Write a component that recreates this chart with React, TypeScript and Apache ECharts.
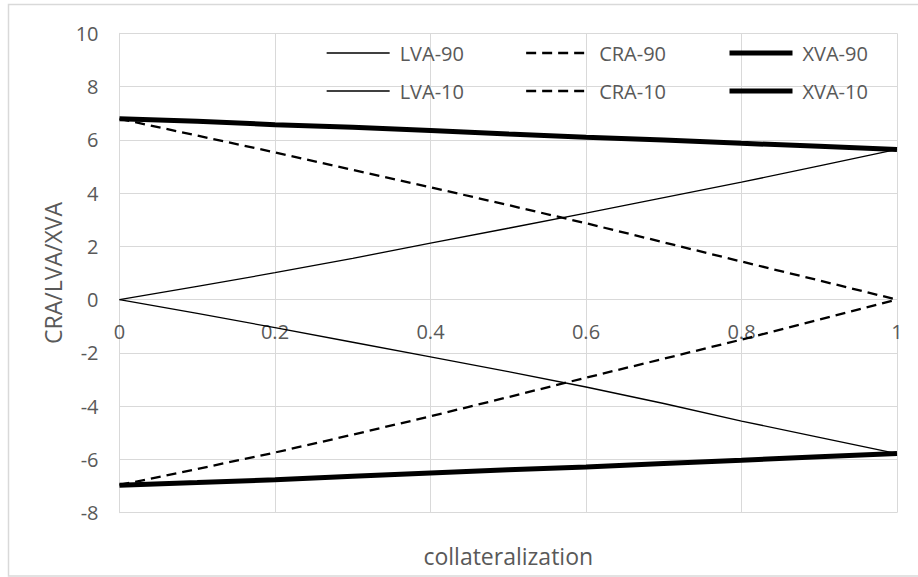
import React, { useEffect, useRef } from "react";
import * as echarts from "echarts";

const xValues = [0, 0.1, 0.2, 0.3, 0.4, 0.5, 0.6, 0.7, 0.8, 0.9, 1];
const lva90 = [0, 0.5, 1.01, 1.55, 2.12, 2.68, 3.25, 3.83, 4.41, 5.02, 5.64];
const cra90 = [6.79, 6.16, 5.53, 4.87, 4.22, 3.55, 2.87, 2.15, 1.43, 0.72, 0];
const xva90 = [6.79, 6.7, 6.57, 6.47, 6.35, 6.22, 6.1, 5.99, 5.87, 5.76, 5.64];
const lva10 = [0, -0.52, -1.05, -1.6, -2.15, -2.7, -3.28, -3.9, -4.56, -5.17, -5.78];
const cra10 = [-6.96, -6.36, -5.74, -5.07, -4.38, -3.66, -2.93, -2.22, -1.5, -0.75, 0];
const xva10 = [-6.97, -6.87, -6.76, -6.63, -6.51, -6.39, -6.28, -6.15, -6.03, -5.9, -5.78];

const FONT = "'Open Sans', sans-serif";
const TXT = "#595959";
const GRID = "#d9d9d9";

function pairs(ys: number[]) {
  return xValues.map((x, i) => [x, ys[i]]);
}

export default function App() {
  const ref = useRef<HTMLDivElement>(null);
  useEffect(() => {
    if (!ref.current) return;
    const chart = echarts.init(ref.current, undefined, { renderer: "svg" });
    const thin = { color: "#000", width: 1.3, type: "solid" as const };
    const dash = { color: "#000", width: 2.3, type: [10, 6] as any };
    const thick = { color: "#000", width: 5, type: "solid" as const };
    const mk = (name: string, ys: number[], ls: any) => ({
      name,
      type: "line",
      data: pairs(ys),
      symbol: "none",
      showSymbol: false,
      lineStyle: ls,
      itemStyle: { color: "#000" },
      color: "#000",
    });
    const legendBase = {
      orient: "vertical",
      top: 43,
      padding: 0,
      itemWidth: 63,
      itemHeight: 20,
      itemGap: 18,
      itemStyle: { color: "rgba(0,0,0,0)", opacity: 0, borderWidth: 0 },
      textStyle: { fontFamily: FONT, fontSize: 20, color: TXT, padding: [0, 0, 0, 5] },
    };
    chart.setOption({
      animation: false,
      backgroundColor: "#fff",
      textStyle: { fontFamily: FONT },
      grid: {
        left: 119.5,
        right: 21,
        top: 33.3,
        bottom: 64.3,
        containLabel: false,
        outerBoundsMode: "none",
      },
      legend: [
        { ...legendBase, left: 326, lineStyle: { width: 1.3 }, data: ["LVA-90", "LVA-10"] },
        { ...legendBase, left: 525, lineStyle: { width: 2.3 }, data: ["CRA-90", "CRA-10"] },
        { ...legendBase, left: 727, lineStyle: { width: 5 }, data: ["XVA-90", "XVA-10"] },
      ],
      xAxis: {
        type: "value",
        min: 0,
        max: 1,
        interval: 0.2,
        position: "bottom",
        offset: -213,
        name: "collateralization",
        nameLocation: "middle",
        nameGap: 245,
        nameTextStyle: { fontFamily: FONT, fontSize: 23, color: TXT },
        axisLine: { show: true, onZero: false, lineStyle: { color: GRID, width: 1 } },
        axisTick: { show: false },
        axisLabel: { fontFamily: FONT, fontSize: 20, color: TXT, margin: 22 },
        splitLine: { show: true, lineStyle: { color: GRID, width: 1 } },
      },
      yAxis: {
        type: "value",
        min: -8,
        max: 10,
        interval: 2,
        axisLine: { show: true, onZero: false, lineStyle: { color: GRID, width: 1 } },
        axisTick: { show: false },
        axisLabel: { fontFamily: FONT, fontSize: 20, color: TXT, margin: 21 },
        splitLine: { show: true, lineStyle: { color: GRID, width: 1 } },
      },
      graphic: [
        {
          type: "rect",
          shape: { x: 8.5, y: 4.5, width: 1000, height: 571.5 },
          style: { fill: "none", stroke: GRID, lineWidth: 1.5 },
          silent: true,
        },
        {
          type: "text",
          x: 53,
          y: 273,
          rotation: Math.PI / 2,
          silent: true,
          style: {
            text: "CRA/LVA/XVA",
            fontFamily: FONT,
            fontSize: 23,
            fill: TXT,
            textAlign: "center",
            textVerticalAlign: "middle",
          },
        },
      ],
      series: [
        mk("LVA-90", lva90, thin),
        mk("CRA-90", cra90, dash),
        mk("XVA-90", xva90, thick),
        mk("LVA-10", lva10, thin),
        mk("CRA-10", cra10, dash),
        mk("XVA-10", xva10, thick),
      ],
    });
    return () => chart.dispose();
  }, []);
  return (
    <div
      ref={ref}
      style={{ position: "absolute", left: 0, top: 0, width: 918, height: 577 }}
    />
  );
}
